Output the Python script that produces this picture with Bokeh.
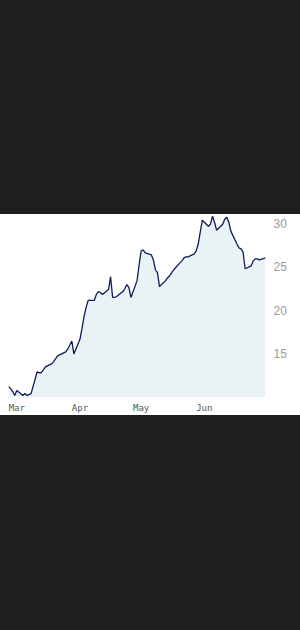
import pandas as pd
from bokeh.plotting import figure
from bokeh.models import Range1d, DatetimeTickFormatter, FixedTicker, LinearAxis, ColumnDataSource, Spacer
from bokeh.layouts import column
from bokeh.embed import file_html
from bokeh.resources import INLINE

dates = [
    "2013-02-25", "2013-02-26", "2013-02-27", "2013-02-28", "2013-03-01",
    "2013-03-04", "2013-03-05", "2013-03-06", "2013-03-07", "2013-03-08",
    "2013-03-11", "2013-03-12", "2013-03-13", "2013-03-14", "2013-03-15",
    "2013-03-18", "2013-03-19", "2013-03-20", "2013-03-21", "2013-03-22",
    "2013-03-25", "2013-03-26", "2013-03-27", "2013-03-28", "2013-03-29",
    "2013-04-01", "2013-04-02", "2013-04-03", "2013-04-04", "2013-04-05",
    "2013-04-08", "2013-04-09", "2013-04-10", "2013-04-11", "2013-04-12",
    "2013-04-15", "2013-04-16", "2013-04-17", "2013-04-18", "2013-04-19",
    "2013-04-22", "2013-04-23", "2013-04-24", "2013-04-25", "2013-04-26",
    "2013-04-29", "2013-04-30", "2013-05-01", "2013-05-02", "2013-05-03",
    "2013-05-06", "2013-05-07", "2013-05-08", "2013-05-09", "2013-05-10",
    "2013-05-13", "2013-05-14", "2013-05-15", "2013-05-16", "2013-05-17",
    "2013-05-20", "2013-05-21", "2013-05-22", "2013-05-23", "2013-05-24",
    "2013-05-27", "2013-05-28", "2013-05-29", "2013-05-30", "2013-05-31",
    "2013-06-03", "2013-06-04", "2013-06-05", "2013-06-06", "2013-06-07",
    "2013-06-10", "2013-06-11", "2013-06-12", "2013-06-13", "2013-06-14",
    "2013-06-17", "2013-06-18", "2013-06-19", "2013-06-20", "2013-06-21",
    "2013-06-24", "2013-06-25", "2013-06-26", "2013-06-27", "2013-06-28",
    "2013-07-01",
]
prices = [
    11.25, 11.02, 10.68, 10.23, 10.80,
    10.23, 10.45, 10.23, 10.34, 10.45,
    12.95, 12.84, 12.84, 13.18, 13.52,
    13.86, 14.09, 14.43, 14.77, 14.89,
    15.23, 15.57, 16.02, 16.48, 15.00,
    16.70, 17.95, 19.32, 20.34, 21.14,
    21.14, 21.82, 22.16, 22.05, 21.82,
    22.39, 23.86, 21.48, 21.48, 21.59,
    22.16, 22.50, 22.95, 22.61, 21.48,
    23.41, 25.23, 26.82, 26.93, 26.59,
    26.36, 25.80, 24.66, 24.32, 22.73,
    23.41, 23.75, 23.98, 24.32, 24.66,
    25.45, 25.68, 26.02, 26.14, 26.14,
    26.48, 26.82, 27.61, 28.98, 30.34,
    29.66, 29.89, 30.80, 30.11, 29.20,
    29.89, 30.45, 30.68, 30.11, 29.09,
    27.61, 27.16, 27.05, 26.70, 24.77,
    25.11, 25.68, 25.91, 25.91, 25.80,
    26.02,
]
y_ticks = [15, 20, 25, 30]
month_ticks = ["2013-03-01", "2013-04-01", "2013-05-01", "2013-06-01"]

x = pd.to_datetime(dates)
src = ColumnDataSource(dict(x=x, y=prices, base=[10.0] * len(prices)))

p = figure(width=300, height=201, x_axis_type="datetime",
           x_range=Range1d(pd.Timestamp("2013-02-21"), pd.Timestamp("2013-07-01")),
           y_range=Range1d(10, 31),
           output_backend="svg", toolbar_location=None,
           min_border_left=0, min_border_top=0, min_border_right=35, min_border_bottom=16,
           y_axis_location=None,
           styles={"background-color": "white"})
p.outline_line_color = None
p.background_fill_color = "white"
p.border_fill_color = "white"
p.grid.visible = False

p.varea(x="x", y1="base", y2="y", source=src, fill_color="#e9f3f6")
p.line(x="x", y="y", source=src, line_color="#0e1a5c", line_width=1.3)

ya = LinearAxis(ticker=FixedTicker(ticks=y_ticks))
ya.axis_line_color = None
ya.major_tick_line_color = None
ya.minor_tick_line_color = None
ya.major_tick_out = 0
ya.major_tick_in = 0
ya.minor_tick_out = 0
ya.major_label_standoff = 8
ya.major_label_text_font = "Liberation Sans"
ya.major_label_text_font_size = "12px"
ya.major_label_text_color = "#9a9a9a"
p.add_layout(ya, "right")

xa = p.xaxis[0]
xa.ticker = FixedTicker(ticks=[pd.Timestamp(t).value / 1e6 for t in month_ticks])
xa.formatter = DatetimeTickFormatter(months="%b", days="%b")
xa.axis_line_color = None
xa.major_tick_line_color = None
xa.minor_tick_line_color = None
xa.major_tick_out = 0
xa.major_tick_in = 0
xa.minor_tick_out = 0
xa.major_label_standoff = 5
xa.major_label_text_font = "DejaVu Sans Mono"
xa.major_label_text_font_size = "9px"
xa.major_label_text_color = "#555555"

layout = column(Spacer(width=300, height=214), p, Spacer(width=300, height=215),
                spacing=0, width=300, height=630,
                styles={"background-color": "#1e1e1e"})

open("out.html", "w").write(file_html(layout, INLINE))
